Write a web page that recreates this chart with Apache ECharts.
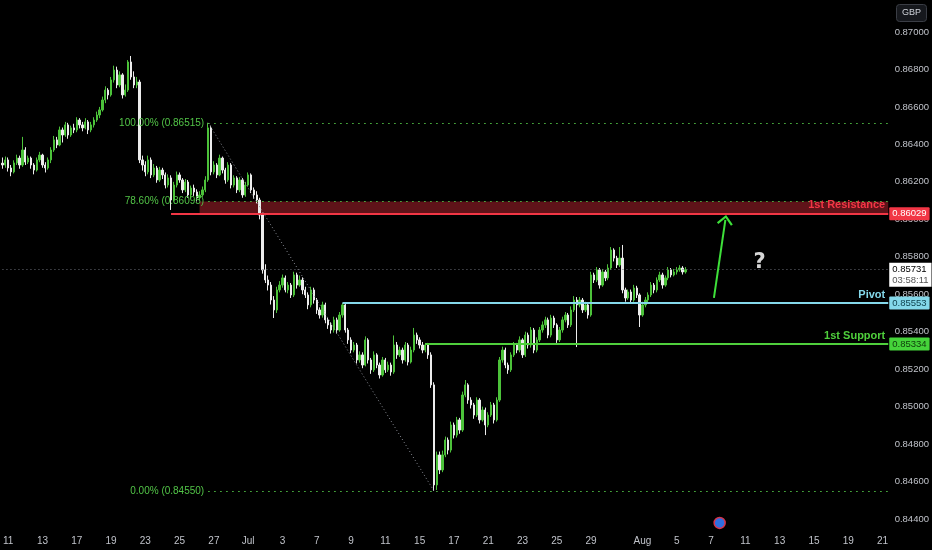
<!DOCTYPE html>
<html><head><meta charset="utf-8">
<script src="https://cdn.jsdelivr.net/npm/echarts@6/dist/echarts.min.js"></script>
<style>html,body{margin:0;padding:0;background:#000;}#c{width:932px;height:550px;}</style>
</head><body><div id="c"></div>
<script>
// ---- trading days (weekdays only) and 4H sessions ----
const tradingDays = ['2025-06-10','2025-06-11','2025-06-12','2025-06-13','2025-06-16','2025-06-17','2025-06-18','2025-06-19','2025-06-20',
 '2025-06-23','2025-06-24','2025-06-25','2025-06-26','2025-06-27','2025-06-30',
 '2025-07-01','2025-07-02','2025-07-03','2025-07-04','2025-07-07','2025-07-08','2025-07-09','2025-07-10','2025-07-11',
 '2025-07-14','2025-07-15','2025-07-16','2025-07-17','2025-07-18','2025-07-21','2025-07-22','2025-07-23','2025-07-24','2025-07-25',
 '2025-07-28','2025-07-29','2025-07-30','2025-07-31','2025-08-01','2025-08-04','2025-08-05','2025-08-06','2025-08-07','2025-08-08',
 '2025-08-11','2025-08-12','2025-08-13','2025-08-14','2025-08-15','2025-08-18','2025-08-19','2025-08-20','2025-08-21'];
const sessionHours = ['00:00','04:00','08:00','12:00','16:00','20:00'];

// ---- x tick labels ----
const tickDays = ['2025-06-11','2025-06-13','2025-06-17','2025-06-19','2025-06-23','2025-06-25','2025-06-27','2025-07-01','2025-07-03',
 '2025-07-07','2025-07-09','2025-07-11','2025-07-15','2025-07-17','2025-07-21','2025-07-23','2025-07-25','2025-07-29','2025-08-01',
 '2025-08-05','2025-08-07','2025-08-11','2025-08-13','2025-08-15','2025-08-19','2025-08-21'];
const tickTexts = ['11','13','17','19','23','25','27','Jul','3','7','9','11','15','17','21','23','25','29','Aug','5','7','11','13','15','19','21'];

// ---- y tick labels ----
const priceTicks = [0.844,0.846,0.848,0.850,0.852,0.854,0.856,0.858,0.860,0.862,0.864,0.866,0.868,0.870];

// ---- 4H candles [open, close, low, high] ----
const junCandles = [
[0.86300,0.86290,0.86270,0.86330],[0.86290,0.86317,0.86275,0.86335],[0.86317,0.86274,0.86255,0.86330],[0.86274,0.86253,0.86230,0.86290],
[0.86253,0.86301,0.86245,0.86315],[0.86301,0.86327,0.86290,0.86345],[0.86327,0.86290,0.86270,0.86340],[0.86290,0.86370,0.86280,0.86440],
[0.86370,0.86306,0.86290,0.86385],[0.86306,0.86327,0.86295,0.86340],[0.86327,0.86290,0.86270,0.86335],[0.86290,0.86263,0.86240,0.86300],
[0.86263,0.86317,0.86255,0.86330],[0.86317,0.86343,0.86305,0.86360],[0.86343,0.86290,0.86275,0.86350],[0.86290,0.86274,0.86250,0.86305],
[0.86274,0.86317,0.86265,0.86330],[0.86317,0.86370,0.86300,0.86385],[0.86370,0.86424,0.86360,0.86445],[0.86424,0.86397,0.86380,0.86440],
[0.86397,0.86477,0.86390,0.86495],[0.86477,0.86450,0.86410,0.86490],[0.86450,0.86504,0.86440,0.86520],[0.86504,0.86450,0.86430,0.86515],
[0.86450,0.86488,0.86440,0.86500],[0.86488,0.86477,0.86460,0.86510],[0.86477,0.86530,0.86465,0.86545],[0.86530,0.86504,0.86485,0.86540],
[0.86504,0.86488,0.86470,0.86520],[0.86488,0.86520,0.86480,0.86540],[0.86520,0.86477,0.86455,0.86530],[0.86477,0.86504,0.86465,0.86520],
[0.86504,0.86530,0.86490,0.86545],[0.86530,0.86557,0.86520,0.86575],[0.86557,0.86584,0.86540,0.86600],[0.86584,0.86637,0.86575,0.86655],
[0.86637,0.86690,0.86620,0.86710],[0.86690,0.86664,0.86640,0.86700],[0.86664,0.86744,0.86655,0.86760],[0.86744,0.86797,0.86730,0.86820],
[0.86797,0.86717,0.86700,0.86815],[0.86717,0.86771,0.86705,0.86790],[0.86771,0.86664,0.86645,0.86780],[0.86664,0.86690,0.86655,0.86720],
[0.86690,0.86840,0.86680,0.86850],[0.86840,0.86760,0.86745,0.86872],[0.86760,0.86717,0.86700,0.86790],[0.86717,0.86733,0.86700,0.86760],
[0.86733,0.86317,0.86300,0.86745],[0.86317,0.86290,0.86260,0.86340],[0.86290,0.86253,0.86230,0.86310],[0.86253,0.86317,0.86240,0.86340],
[0.86317,0.86237,0.86220,0.86330],[0.86237,0.86274,0.86225,0.86295],[0.86274,0.86210,0.86195,0.86285],[0.86210,0.86263,0.86200,0.86280],
[0.86263,0.86237,0.86215,0.86275],[0.86237,0.86183,0.86165,0.86250],[0.86183,0.86221,0.86170,0.86240],[0.86221,0.86103,0.86050,0.86235],
[0.86103,0.86183,0.86095,0.86200],[0.86183,0.86237,0.86170,0.86255],[0.86237,0.86210,0.86195,0.86250],[0.86210,0.86157,0.86140,0.86220],
[0.86157,0.86199,0.86145,0.86215],[0.86199,0.86130,0.86115,0.86210],[0.86130,0.86167,0.86110,0.86180],[0.86167,0.86146,0.86125,0.86185],
[0.86146,0.86114,0.86095,0.86160],[0.86114,0.86130,0.86100,0.86150],[0.86130,0.86157,0.86120,0.86175],[0.86157,0.86210,0.86145,0.86230],
[0.86210,0.86488,0.86200,0.86515],[0.86488,0.86253,0.86235,0.86500],[0.86253,0.86290,0.86240,0.86310],[0.86290,0.86237,0.86220,0.86300],
[0.86237,0.86327,0.86230,0.86345],[0.86327,0.86263,0.86245,0.86335],[0.86263,0.86210,0.86190,0.86275],[0.86210,0.86290,0.86200,0.86305],
[0.86290,0.86183,0.86165,0.86300],[0.86183,0.86221,0.86170,0.86235],[0.86221,0.86157,0.86140,0.86230],[0.86157,0.86210,0.86145,0.86225],
[0.86210,0.86130,0.86115,0.86220],[0.86130,0.86183,0.86120,0.86200]
];
const julCandles = [
[0.86183,0.86237,0.86175,0.86250],[0.86237,0.86157,0.86140,0.86245],[0.86157,0.86130,0.86110,0.86170],[0.86130,0.86103,0.86085,0.86150],
[0.86103,0.86023,0.86000,0.86115],[0.86023,0.85730,0.85710,0.86035],[0.85730,0.85676,0.85660,0.85760],[0.85676,0.85649,0.85620,0.85700],
[0.85649,0.85569,0.85545,0.85665],[0.85569,0.85516,0.85473,0.85590],[0.85516,0.85623,0.85500,0.85640],[0.85623,0.85649,0.85610,0.85670],
[0.85649,0.85687,0.85635,0.85705],[0.85687,0.85623,0.85610,0.85700],[0.85623,0.85649,0.85605,0.85665],[0.85649,0.85596,0.85580,0.85660],
[0.85596,0.85703,0.85585,0.85720],[0.85703,0.85649,0.85630,0.85715],[0.85649,0.85676,0.85640,0.85700],[0.85676,0.85623,0.85600,0.85690],
[0.85623,0.85596,0.85580,0.85640],[0.85596,0.85543,0.85520,0.85610],[0.85543,0.85623,0.85530,0.85640],[0.85623,0.85569,0.85550,0.85635],
[0.85569,0.85516,0.85495,0.85580],[0.85516,0.85489,0.85470,0.85530],[0.85489,0.85543,0.85475,0.85560],[0.85543,0.85463,0.85445,0.85555],
[0.85463,0.85436,0.85415,0.85475],[0.85436,0.85409,0.85390,0.85450],[0.85409,0.85463,0.85395,0.85480],[0.85463,0.85409,0.85390,0.85475],
[0.85409,0.85489,0.85400,0.85505],[0.85489,0.85543,0.85475,0.85553],[0.85543,0.85409,0.85395,0.85553],[0.85409,0.85356,0.85335,0.85420],
[0.85356,0.85302,0.85285,0.85370],[0.85302,0.85329,0.85290,0.85345],[0.85329,0.85249,0.85230,0.85340],[0.85249,0.85276,0.85235,0.85295],
[0.85276,0.85222,0.85205,0.85290],[0.85222,0.85356,0.85215,0.85375],[0.85356,0.85249,0.85230,0.85365],[0.85249,0.85196,0.85175,0.85260],
[0.85196,0.85276,0.85185,0.85295],[0.85276,0.85222,0.85205,0.85285],[0.85222,0.85169,0.85150,0.85235],[0.85169,0.85249,0.85160,0.85265],
[0.85249,0.85196,0.85180,0.85260],[0.85196,0.85222,0.85185,0.85240],[0.85222,0.85185,0.85165,0.85235],[0.85185,0.85329,0.85175,0.85380],
[0.85329,0.85276,0.85255,0.85345],[0.85276,0.85302,0.85265,0.85320],[0.85302,0.85249,0.85230,0.85315],[0.85249,0.85329,0.85240,0.85345],
[0.85329,0.85238,0.85220,0.85340],[0.85238,0.85302,0.85230,0.85320],[0.85302,0.85382,0.85290,0.85420],[0.85382,0.85356,0.85335,0.85395],
[0.85356,0.85329,0.85310,0.85370],[0.85329,0.85302,0.85285,0.85345],[0.85302,0.85329,0.85290,0.85340],[0.85329,0.85276,0.85255,0.85340],
[0.85276,0.85116,0.85100,0.85290],[0.85116,0.84582,0.84550,0.85130],[0.84582,0.84742,0.84555,0.84760],[0.84742,0.84662,0.84640,0.84760],
[0.84662,0.84742,0.84650,0.84765],[0.84742,0.84822,0.84730,0.84840],[0.84822,0.84768,0.84745,0.84835],[0.84768,0.84902,0.84755,0.84920],
[0.84902,0.84848,0.84830,0.84915],[0.84848,0.84929,0.84835,0.84945],[0.84929,0.84875,0.84855,0.84940],[0.84875,0.85062,0.84865,0.85080],
[0.85062,0.85116,0.85050,0.85142],[0.85116,0.85035,0.85015,0.85125],[0.85035,0.85009,0.84990,0.85050],[0.85009,0.84955,0.84935,0.85020],
[0.84955,0.85035,0.84945,0.85050],[0.85035,0.84929,0.84910,0.85045],[0.84929,0.84982,0.84920,0.85000],[0.84982,0.84902,0.84848,0.84995],
[0.84902,0.84955,0.84890,0.84970],[0.84955,0.85009,0.84945,0.85025],[0.85009,0.84929,0.84910,0.85020],[0.84929,0.85035,0.84920,0.85050],
[0.85035,0.85249,0.85025,0.85265],[0.85249,0.85302,0.85235,0.85320],[0.85302,0.85222,0.85205,0.85315],[0.85222,0.85196,0.85175,0.85235],
[0.85196,0.85276,0.85185,0.85290],[0.85276,0.85329,0.85265,0.85345],[0.85329,0.85302,0.85285,0.85340],[0.85302,0.85356,0.85290,0.85375],
[0.85356,0.85276,0.85260,0.85365],[0.85276,0.85382,0.85265,0.85400],[0.85382,0.85329,0.85310,0.85395],[0.85329,0.85409,0.85315,0.85425],
[0.85409,0.85302,0.85285,0.85420],[0.85302,0.85356,0.85290,0.85370],[0.85356,0.85409,0.85345,0.85425],[0.85409,0.85436,0.85395,0.85455],
[0.85436,0.85463,0.85420,0.85480],[0.85463,0.85382,0.85365,0.85475],[0.85382,0.85473,0.85370,0.85490],[0.85473,0.85436,0.85420,0.85485],
[0.85436,0.85356,0.85340,0.85445],[0.85356,0.85409,0.85345,0.85425],[0.85409,0.85463,0.85395,0.85480],[0.85463,0.85489,0.85450,0.85505],
[0.85489,0.85436,0.85420,0.85500],[0.85436,0.85516,0.85425,0.85535],[0.85516,0.85569,0.85505,0.85590],[0.85569,0.85543,0.85318,0.85585],
[0.85543,0.85569,0.85530,0.85585],[0.85569,0.85516,0.85500,0.85580],[0.85516,0.85543,0.85505,0.85560],[0.85543,0.85489,0.85470,0.85555],
[0.85489,0.85703,0.85480,0.85720],[0.85703,0.85676,0.85660,0.85715],[0.85676,0.85730,0.85665,0.85745],[0.85730,0.85649,0.85630,0.85740],
[0.85649,0.85719,0.85640,0.85735],[0.85719,0.85687,0.85670,0.85730],[0.85687,0.85740,0.85675,0.85760],[0.85740,0.85836,0.85730,0.85852],
[0.85836,0.85793,0.85775,0.85845],[0.85793,0.85756,0.85740,0.85805],[0.85756,0.85793,0.85745,0.85852],[0.85793,0.85623,0.85605,0.85863],
[0.85623,0.85580,0.85560,0.85635],[0.85580,0.85612,0.85570,0.85625],[0.85612,0.85569,0.85550,0.85625],[0.85569,0.85633,0.85560,0.85650],
[0.85633,0.85596,0.85580,0.85645],[0.85596,0.85489,0.85425,0.85605]
];
const augCandles = [
[0.85489,0.85543,0.85480,0.85560],[0.85543,0.85569,0.85530,0.85585],[0.85569,0.85596,0.85555,0.85610],[0.85596,0.85649,0.85585,0.85665],
[0.85649,0.85623,0.85605,0.85660],[0.85623,0.85676,0.85610,0.85690],[0.85676,0.85703,0.85665,0.85720],[0.85703,0.85649,0.85630,0.85715],
[0.85649,0.85687,0.85640,0.85700],[0.85687,0.85730,0.85675,0.85745],[0.85730,0.85703,0.85690,0.85740],[0.85703,0.85719,0.85695,0.85735],
[0.85719,0.85730,0.85705,0.85745],[0.85730,0.85740,0.85720,0.85755],[0.85740,0.85719,0.85705,0.85750],[0.85719,0.85731,0.85710,0.85745]
];

// ---- levels / annotations ----
const resistanceLevel = 0.86029, resistanceZoneTop = 0.86095;
const pivotLevel = 0.85553, supportLevel = 0.85334;
const fibPrices = [0.86515, 0.86095, 0.84550];
const fibTexts = ['100.00% (0.86515)', '78.60% (0.86095)', '0.00% (0.84550)'];
const lastPrice = 0.85731, countdown = '03:58:11';
const levelTexts = ['1st Resistance', 'Pivot', '1st Support'];
// anchor candle indices
const resistanceStartIdx = 59, zoneStartIdx = 69, fibHighIdx = 72, fibLowIdx = 151;
const pivotStartIdx = 119, supportStartIdx = 148;
const arrowFrom = [249, 0.85580], arrowTo = [253, 0.85997];
const questionAt = [265, 0.85767];
const eventAt = [251, 0.84379];

// ---- build ----
const allCats = [];
tradingDays.forEach(d => sessionHours.forEach(h => allCats.push(d + ' ' + h)));
const categories = allCats.slice(4, 315);
const lastIdx = categories.length - 1;
const cat = i => categories[i];
const candles = junCandles.concat(julCandles, augCandles);
const tickMap = {};
tickDays.forEach((d, k) => { tickMap[d + ' 00:00'] = tickTexts[k]; });

const NARROW = "'Liberation Sans Narrow','Liberation Sans',Arial,sans-serif";
const UP = '#4cc23a', DOWN = '#ececec';
const RED = '#f23645', CYAN = '#84d8ea', GREEN = '#4fcf3c', FIB = '#52c447';

function hline(fromIdx, to, price, style, label) {
  return [{ coord: [cat(fromIdx), price], lineStyle: style, label: label || { show: false } },
          { coord: [cat(to), price] }];
}

const markLines = [
  hline(0, lastIdx, lastPrice, { color: '#6b6e78', width: 1, type: [1, 3] }),
  ...fibPrices.map((p, k) => hline(fibHighIdx, lastIdx, p, { color: FIB, width: 1, type: [1.5, 4.5] },
     { show: true, position: 'start', distance: 4, formatter: fibTexts[k], color: FIB, fontSize: 10, fontFamily: NARROW })),
  [{ coord: [cat(fibHighIdx), fibPrices[0]], lineStyle: { color: '#8a8d96', width: 1, type: [1, 2.5] }, label: { show: false } },
   { coord: [cat(fibLowIdx), fibPrices[2]] }],
  hline(resistanceStartIdx, lastIdx, resistanceLevel, { color: RED, width: 2, type: 'solid' },
     { show: true, position: 'insideEndTop', distance: 3, formatter: levelTexts[0], color: RED, fontSize: 11, fontWeight: 'bold', fontFamily: NARROW }),
  hline(pivotStartIdx, lastIdx, pivotLevel, { color: CYAN, width: 2, type: 'solid' },
     { show: true, position: 'insideEndTop', distance: 3, formatter: levelTexts[1], color: CYAN, fontSize: 11, fontWeight: 'bold', fontFamily: NARROW }),
  hline(supportStartIdx, lastIdx, supportLevel, { color: GREEN, width: 2, type: 'solid' },
     { show: true, position: 'insideEndTop', distance: 3, formatter: levelTexts[2], color: GREEN, fontSize: 11, fontWeight: 'bold', fontFamily: NARROW }),
  [{ coord: [cat(arrowFrom[0]), arrowFrom[1]], lineStyle: { color: '#3ee03a', width: 2, type: 'solid' }, label: { show: false }, symbol: 'none' },
   { coord: [cat(arrowTo[0]), arrowTo[1]], symbol: 'path://M0,0 L7,8 L5.6,9.4 L0,3 L-5.6,9.4 L-7,8 Z', symbolSize: [16, 10] }]
];

function priceBox(price, bg, fg, text) {
  return {
    coord: [cat(lastIdx), price], symbol: 'circle', symbolSize: 0.01, itemStyle: { color: 'rgba(0,0,0,0)' },
    label: { show: true, position: 'right', distance: 1, formatter: text,
      backgroundColor: bg, color: fg, padding: [2, 3, 1, 3], fontSize: 9.5, fontFamily: NARROW, borderRadius: 1 }
  };
}

const markPoints = [
  priceBox(resistanceLevel, RED, '#ffffff', resistanceLevel.toFixed(5)),
  priceBox(pivotLevel, CYAN, '#0d3f4c', pivotLevel.toFixed(5)),
  priceBox(supportLevel, '#45d33a', '#0e3b0b', supportLevel.toFixed(5)),
  {
    coord: [cat(lastIdx), lastPrice], symbol: 'circle', symbolSize: 0.01, itemStyle: { color: 'rgba(0,0,0,0)' },
    label: { show: true, position: 'right', distance: 1, offset: [0, 5],
      formatter: '{a|' + lastPrice.toFixed(5) + '}\n{b|' + countdown + '}',
      backgroundColor: '#ffffff', padding: [1, 3, 1, 3],
      rich: { a: { color: '#000000', fontSize: 9.5, fontFamily: NARROW, lineHeight: 11 },
              b: { color: '#555555', fontSize: 9.5, fontFamily: NARROW, lineHeight: 11 } } }
  },
  {
    coord: [cat(questionAt[0]), questionAt[1]], symbol: 'circle', symbolSize: 0.01, itemStyle: { color: 'rgba(0,0,0,0)' },
    label: { show: true, position: 'inside', formatter: '?', color: '#d6d6d6', fontSize: 21, fontWeight: 'bold', fontFamily: 'DejaVu Sans' }
  },
  {
    coord: [cat(eventAt[0]), eventAt[1]], symbol: 'circle', symbolSize: 11,
    itemStyle: { color: '#2f6fe0', borderColor: '#d8344a', borderWidth: 1.5 }, label: { show: false }
  }
];

const chart = echarts.init(document.getElementById('c'), null, { renderer: 'canvas' });
chart.setOption({
  backgroundColor: '#000000',
  animation: false,
  grid: { left: 0, right: 40, top: 0, bottom: 20, containLabel: false },
  xAxis: {
    type: 'category', data: categories, boundaryGap: true,
    axisLine: { show: false }, axisTick: { show: false }, splitLine: { show: false },
    axisLabel: {
      interval: (idx, val) => tickMap[val] !== undefined,
      formatter: val => tickMap[val] || '',
      color: '#c0c3ca', fontSize: 10, fontFamily: NARROW, margin: 6
    }
  },
  yAxis: {
    type: 'value', position: 'right', min: 0.843413, max: 0.871708, scale: true,
    axisLine: { show: false }, axisTick: { show: false }, splitLine: { show: false },
    axisLabel: { customValues: priceTicks, formatter: v => v.toFixed(5), color: '#c0c3ca', fontSize: 9.5, fontFamily: NARROW, margin: 5 }
  },
  series: [{
    type: 'candlestick', data: candles, barWidth: 1.8,
    itemStyle: { color: UP, color0: DOWN, borderColor: UP, borderColor0: DOWN, borderWidth: 1 },
    markArea: {
      silent: true,
      itemStyle: { color: 'rgba(190,38,50,0.5)' },
      data: [[{ coord: [cat(zoneStartIdx), resistanceZoneTop] }, { coord: [cat(lastIdx), resistanceLevel] }]]
    },
    markLine: { silent: true, symbol: ['none', 'none'], animation: false, data: markLines },
    markPoint: { silent: true, animation: false, data: markPoints }
  }],
  graphic: [{
    type: 'group', left: 896, top: 4,
    children: [
      { type: 'rect', shape: { x: 0, y: 0, width: 30, height: 17, r: 3 }, style: { fill: '#16181d', stroke: '#3a3d45', lineWidth: 1 } },
      { type: 'text', x: 15, y: 8.5, style: { text: 'GBP', fill: '#d0d3da', fontSize: 9, fontFamily: NARROW, align: 'center', verticalAlign: 'middle' } }
    ]
  }]
});
</script></body></html>
